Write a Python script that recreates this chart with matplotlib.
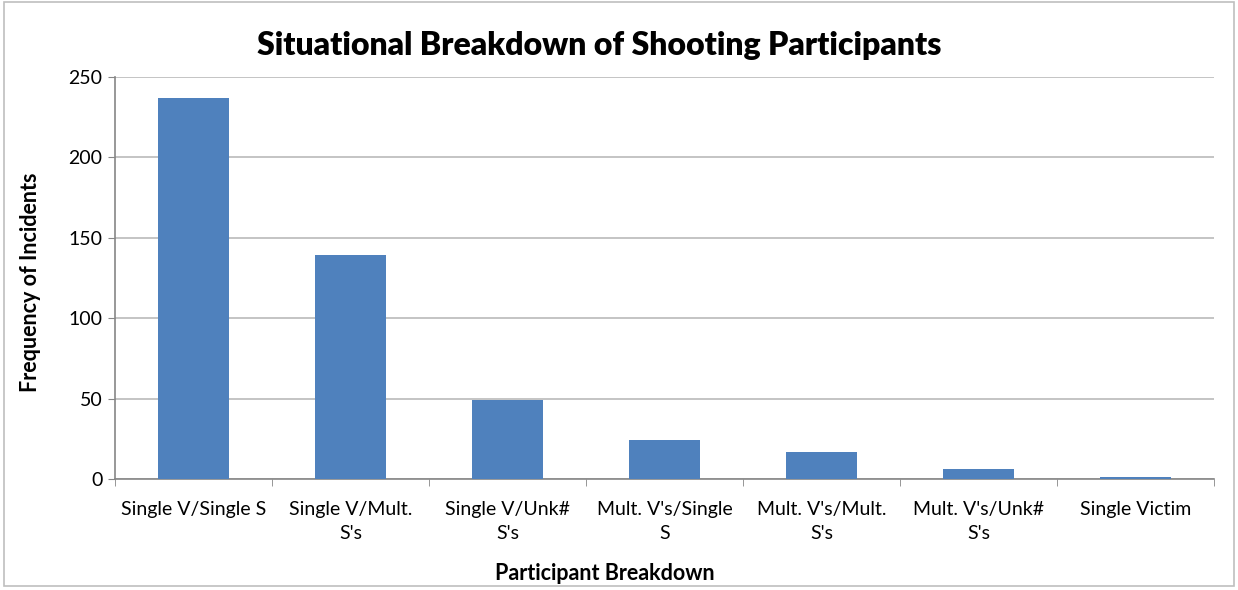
import matplotlib.pyplot as plt
import numpy as np
from matplotlib.patches import Rectangle

categories = ["Single V/Single S", "Single V/Mult.\nS's", "Single V/Unk#\nS's",
              "Mult. V's/Single\nS", "Mult. V's/Mult.\nS's", "Mult. V's/Unk#\nS's",
              "Single Victim"]
counts = [237, 139, 49, 24, 17, 6, 1]
yticks = [0, 50, 100, 150, 200, 250]

plt.rcParams['font.family'] = ['Lato', 'DejaVu Sans']

fig = plt.figure(figsize=(12.38, 5.90), dpi=100)
ax = fig.add_axes([115 / 1238, 1 - 479 / 590, (1214 - 115) / 1238, (479 - 77) / 590])

x = np.arange(len(categories))
ax.bar(x, counts, width=0.45, color='#4f81bd', zorder=3)

ax.set_xlim(-0.5, len(categories) - 0.5)
ax.set_ylim(0, 250)
ax.set_yticks(yticks)
ax.set_yticklabels([str(v) for v in yticks], fontsize=14)
ax.set_xticks(x)
ax.set_xticklabels(categories, fontsize=14, linespacing=1.45)
ax.tick_params(axis='x', length=0, pad=16)
ax.set_xticks(np.arange(-0.5, len(categories)), minor=True)
ax.tick_params(axis='x', which='minor', length=5, color='#868686', direction='out')
ax.tick_params(axis='y', length=5, color='#868686', direction='out', pad=4)

ax.grid(axis='y', color='#bfbfbf', linewidth=1.3, zorder=0)
for side in ['top', 'right']:
    ax.spines[side].set_visible(False)
for side in ['left', 'bottom']:
    ax.spines[side].set_color('#868686')
    ax.spines[side].set_linewidth(1.2)

fig.text(599 / 1238, 1 - 45 / 590, "Situational Breakdown of Shooting Participants",
         fontsize=23, fontweight='heavy', ha='center', va='center')
fig.text(31 / 1238, 1 - 282 / 590, "Frequency of Incidents", fontsize=15.5,
         fontweight='bold', rotation=90, ha='center', va='center')
fig.text(605 / 1238, 1 - 573 / 590, "Participant Breakdown", fontsize=15.5,
         fontweight='bold', ha='center', va='center')

fig.patches.append(Rectangle((0.003, 0.006), 0.994, 0.99, transform=fig.transFigure,
                             fill=False, edgecolor='#bfbfbf', linewidth=1.2))

fig.savefig('out.png', dpi=100)
